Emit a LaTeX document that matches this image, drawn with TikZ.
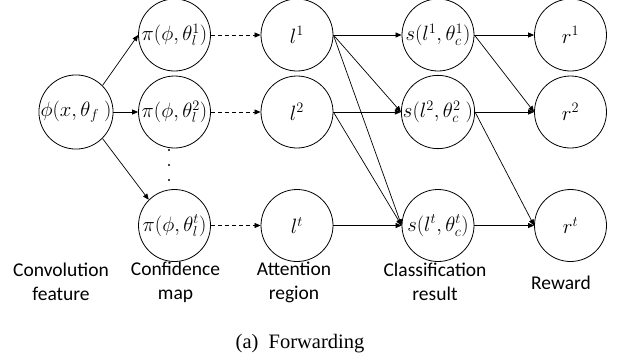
\documentclass[tikz,border=0pt]{standalone}
\usepackage{fontspec}
\setmainfont{Liberation Serif}
\newfontfamily\labfont{Carlito}
\usetikzlibrary{arrows.meta}
\begin{document}
\begin{tikzpicture}[x=1pt,y=-1pt,
 circ/.style={circle,draw,line width=0.8pt,minimum size=72pt,inner sep=0pt,font=\fontsize{20.5}{24}\selectfont},
 lbl/.style={font=\labfont\fontsize{19.5}{24}\selectfont,align=center,inner sep=0pt},
 arr/.style={-{Triangle[length=6pt,width=5pt]},line width=0.7pt},
 darr/.style={arr,dash pattern=on 4pt off 3pt},
 dotn/.style={circle,fill,inner sep=0pt,minimum size=2.4pt}]
\useasboundingbox (0,0) rectangle (618,362);
% column 1
\node[circ] (phi) at (76,112) {$\phi(x,\theta_f\ )$};
% column 2
\node[circ] (p1) at (174.5,35) {$\pi(\phi,\theta_l^1)$};
\node[circ] (p2) at (174.5,112) {$\pi(\phi,\theta_l^2)$};
\node[circ] (pt) at (174.5,225.5) {$\pi(\phi,\theta_l^t)$};
% column 3
\node[circ] (l1) at (297,35) {$l^1$};
\node[circ] (l2) at (297,112) {$l^2$};
\node[circ] (lt) at (297,225.5) {$l^t$};
% column 4
\node[circ] (s1) at (438,35) {$s(l^1,\theta_c^1)$};
\node[circ] (s2) at (438,112) {$s(l^2,\theta_c^2\ )$};
\node[circ] (st) at (438,225.5) {$s(l^t,\theta_c^t)$};
% column 5
\node[circ] (r1) at (570.5,35) {$r^1$};
\node[circ] (r2) at (570.5,112) {$r^2$};
\node[circ] (rt) at (570.5,225.5) {$r^t$};
% dots
\node[dotn] (d1) at (169,150) {};
\node[dotn] (d2) at (169,165) {};
\node[dotn] (d3) at (169,180) {};
% labels
\node[lbl] (lab1) at (61,282) {Convolution\\feature};
\node[lbl] (lab2) at (175.5,282) {Confidence\\map};
\node[lbl] (lab3) at (294,282) {Attention\\region};
\node[lbl] (lab4) at (435,282) {Classification\\result};
\node[lbl] (lab5) at (561,283) {Reward};
\node[font=\fontsize{20.5}{24}\selectfont,inner sep=0pt] (cap) at (300,344) {(a)\ \ Forwarding};
% edges
\draw[arr] (phi.45) -- (p1.west);
\draw[arr] (phi.east) -- (p2.west);
\draw[arr] (phi.-45) -- (pt.135);
\draw[darr] (p1.east) -- (l1.west);
\draw[darr] (p2.east) -- (l2.west);
\draw[darr] (pt.east) -- (lt.west);
\draw[arr] (l1.east) -- (s1.west);
\draw[arr] (l1.east) -- (s2.west);
\draw[arr] (l1.east) -- (st.west);
\draw[arr] (l2.east) -- (s2.west);
\draw[arr] (l2.east) -- (st.west);
\draw[arr] (lt.east) -- (st.west);
\draw[arr] (s1.east) -- (r1.west);
\draw[arr] (s1.east) -- (r2.west);
\draw[arr] (s2.east) -- (r2.west);
\draw[arr] (s2.east) -- (rt.west);
\draw[arr] (st.east) -- (rt.west);
\end{tikzpicture}
\end{document}
